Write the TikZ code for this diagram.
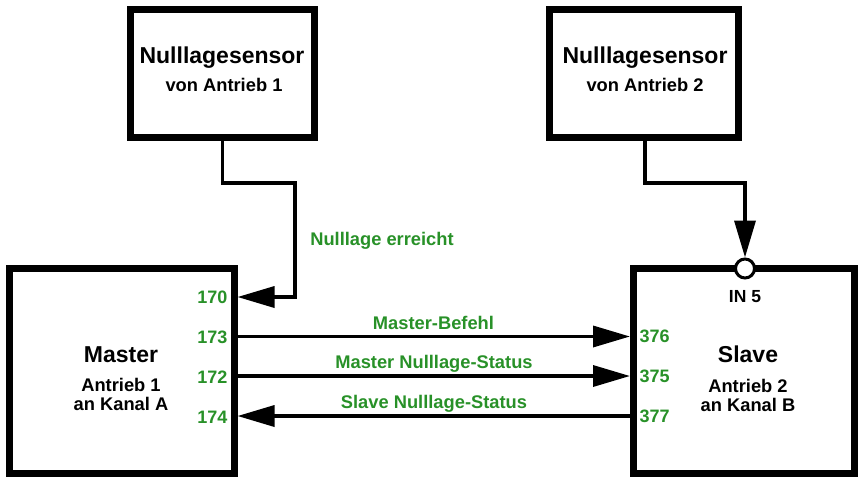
\documentclass[tikz,border=0pt]{standalone}
\usepackage{fontspec}
\setmainfont{Liberation Sans}
\usetikzlibrary{arrows.meta}
\definecolor{lblgreen}{RGB}{40,145,40}
\begin{document}
\begin{tikzpicture}[x=1pt,y=-1pt,
  box/.style={draw,line width=7pt,inner sep=0pt,fill=white},
  wire/.style={line width=3.5pt},
  tip/.style={-{Triangle[length=37pt,width=21pt]}},
  big/.style={font=\fontsize{23}{26}\selectfont\bfseries,inner sep=0pt,anchor=base},
  sub/.style={font=\fontsize{18.3}{21}\selectfont\bfseries,inner sep=0pt,anchor=base},
  port/.style={font=\fontsize{18}{21}\selectfont\bfseries,text=lblgreen,inner sep=0pt,anchor=base},
  sig/.style={font=\fontsize{18.3}{21}\selectfont\bfseries,text=lblgreen,inner sep=0pt,anchor=base}]
\useasboundingbox (0,0) rectangle (859,477);
% boxes
\node[box,minimum width=184pt,minimum height=127.5pt] (s1) at (222.5,73.25) {};
\node[box,minimum width=189pt,minimum height=127.5pt] (s2) at (644,73.25) {};
\node[box,minimum width=224.5pt,minimum height=205pt] (master) at (121.75,371) {};
\node[box,minimum width=221pt,minimum height=205pt] (slave) at (743.5,371) {};
% box texts
\node[big] (s1t) at (222,63.3) {Nulllagesensor};
\node[sub] (s1s) at (224,91.7) {von Antrieb 1};
\node[big] (s2t) at (645,63.3) {Nulllagesensor};
\node[sub] (s2s) at (645,91.7) {von Antrieb 2};
\node[big] (mt) at (121,362.7) {Master};
\node[sub] (m1) at (121,391) {Antrieb 1};
\node[sub] (m2) at (121,410) {an Kanal A};
\node[big] (st) at (748,362.7) {Slave};
\node[sub] (sl1) at (748,392) {Antrieb 2};
\node[sub] (sl2) at (748,411.7) {an Kanal B};
% ports
\coordinate (p170) at (237.5,297);
\coordinate (p173) at (237.5,336.5);
\coordinate (p172) at (237.5,376);
\coordinate (p174) at (237.5,416);
\coordinate (p376) at (630,336.5);
\coordinate (p375) at (630,376);
\coordinate (p377) at (630,416);
\node[port,anchor=base east] (l170) at (227.5,303) {170};
\node[port,anchor=base east] (l173) at (227.5,343) {173};
\node[port,anchor=base east] (l172) at (227.5,383) {172};
\node[port,anchor=base east] (l174) at (227.5,423) {174};
\node[port,anchor=base west] (l376) at (639.5,342) {376};
\node[port,anchor=base west] (l375) at (639.5,382) {375};
\node[port,anchor=base west] (l377) at (639.5,422) {377};
% IN 5
\node[draw,circle,line width=3pt,fill=white,minimum size=19pt,inner sep=0pt] (in5) at (745,268.5) {};
\node[sub,font=\fontsize{17.5}{20}\selectfont\bfseries] (in5t) at (745,302) {IN 5};
% sensor connectors
\coordinate (b1) at (222.5,183);
\coordinate (b2) at (295,183);
\coordinate (b3) at (295,297);
\draw[wire,tip] (s1.south) -- (b1) -- (b2) -- (b3) -- (p170);
\coordinate (c1) at (645,183);
\coordinate (c2) at (745,183);
\draw[wire,tip] (s2.south -| c1) -- (c1) -- (c2) -- (in5.north);
% signal connectors
\draw[wire,tip] (p173) -- (p376);
\draw[wire,tip] (p172) -- (p375);
\draw[wire,tip] (p377) -- (p174);
% signal labels
\node[sig] (nl) at (382,245.7) {Nulllage erreicht};
\node[sig] (mb) at (433.5,329) {Master-Befehl};
\node[sig] (mn) at (434,368.3) {Master Nulllage-Status};
\node[sig] (sn) at (434,408.3) {Slave Nulllage-Status};
\end{tikzpicture}
\end{document}
